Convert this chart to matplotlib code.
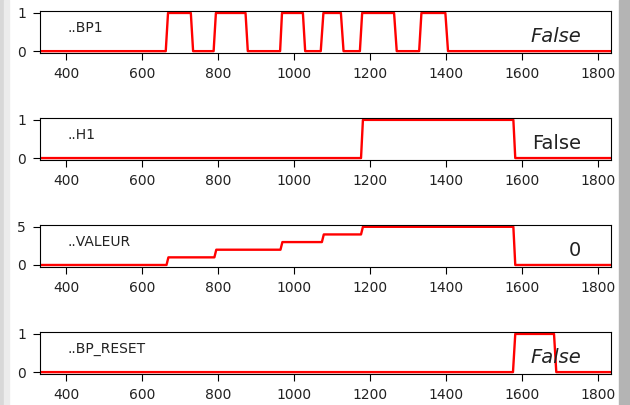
import matplotlib
matplotlib.use('Agg')
import matplotlib.pyplot as plt
from matplotlib.patches import Rectangle

# time (ms) / value breakpoints
t_bp1 = [331, 662, 668, 728, 734, 788, 794, 872, 878, 963, 968, 1023, 1029,
         1070, 1077, 1123, 1130, 1173, 1179, 1263, 1270, 1329, 1335, 1398, 1405, 1834]
v_bp1 = [0, 0, 1, 1, 0, 0, 1, 1, 0, 0, 1, 1, 0,
         0, 1, 1, 0, 0, 1, 1, 0, 0, 1, 1, 0, 0]

t_h1 = [331, 1176, 1181, 1577, 1582, 1834]
v_h1 = [0, 0, 1, 1, 0, 0]

t_valeur = [331, 664, 669, 790, 795, 964, 969, 1073, 1078, 1176, 1181, 1577, 1582, 1834]
v_valeur = [0, 0, 1, 1, 2, 2, 3, 3, 4, 4, 5, 5, 0, 0]

t_reset = [331, 1576, 1582, 1684, 1690, 1834]
v_reset = [0, 0, 1, 1, 0, 0]

names = ['..BP1', '..H1', '..VALEUR', '..BP_RESET']
states = ['False', 'False', '0', 'False']
italic = [True, False, False, True]
yticks = [[0, 1], [0, 1], [0, 5], [0, 1]]

series = [(t_bp1, v_bp1), (t_h1, v_h1), (t_valeur, v_valeur), (t_reset, v_reset)]
bottoms = [0.869, 0.605, 0.341, 0.0765]

fig = plt.figure(figsize=(6.3, 4.05), dpi=100)

# screenshot shadow edges
fig.patches.append(Rectangle((0, 0), 4 / 630, 1, transform=fig.transFigure,
                             color='#d8d8d8', zorder=0))
fig.patches.append(Rectangle((4 / 630, 0), 5 / 630, 1, transform=fig.transFigure,
                             color='#ececec', zorder=0))
fig.patches.append(Rectangle((619 / 630, 0), 11 / 630, 1, transform=fig.transFigure,
                             color='#b4b4b4', zorder=0))

for i, (t, v) in enumerate(series):
    ax = fig.add_axes([40 / 630, bottoms[i], 571 / 630, 42 / 405])
    ax.plot(t, v, color='red', lw=1.7)
    ax.set_xlim(331, 1834)
    ax.set_yticks(yticks[i])
    ax.set_xticks([400, 600, 800, 1000, 1200, 1400, 1600, 1800])
    ax.tick_params(labelsize=10, length=5, pad=5, labelcolor='#222222')
    ax.text(0.049, 0.585, names[i], transform=ax.transAxes, fontsize=10,
            va='center', ha='left', color='#222222')
    ax.text(0.947, 0.40, states[i], transform=ax.transAxes, fontsize=14,
            va='center', ha='right', color='#222222',
            style='italic' if italic[i] else 'normal')

fig.savefig('out.png')
